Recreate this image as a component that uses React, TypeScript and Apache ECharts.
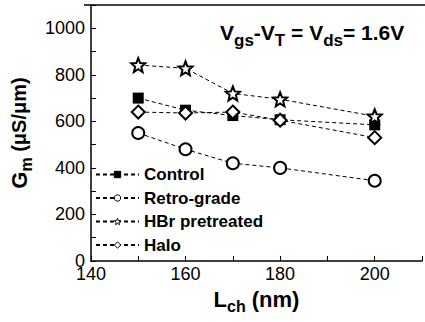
import React, { useEffect, useRef } from "react";
import * as echarts from "echarts";

// Channel length (nm) and transconductance (µS/µm) for each process split
const channelLengths = [150, 160, 170, 180, 200];
const controlGm = [700, 648, 625, 607, 585];
const retroGradeGm = [550, 480, 420, 400, 345];
const hbrGm = [842, 828, 720, 695, 622];
const haloGm = [640, 636, 640, 605, 530];

const seriesNames = ["Control", "Retro-grade", "HBr pretreated", "Halo"];

const xTickLabels = [140, 160, 180, 200];
const yTickLabels = [0, 200, 400, 600, 800, 1000];

const FONT = "'Liberation Sans', Arial, Helvetica, sans-serif";
const STAR =
  "path://M50 0 L62.93 32.2 L97.55 34.55 L70.92 56.8 L79.39 90.45 L50 72 L20.61 90.45 L29.08 56.8 L2.45 34.55 L37.07 32.2 Z";

const pairs = (ys: number[]) => channelLengths.map((x, i) => [x, ys[i]]);

export default function App() {
  const ref = useRef<HTMLDivElement>(null);

  useEffect(() => {
    if (!ref.current) return;
    const chart = echarts.init(ref.current, undefined, { renderer: "svg" });

    const dashed = { color: "#000", width: 1, type: [4, 3] as number[] };
    const mk = (
      name: string,
      data: number[],
      symbol: string,
      size: number | number[],
      filled: boolean
    ) => ({
      name,
      type: "line",
      data: pairs(data),
      symbol,
      symbolSize: size,
      showAllSymbol: true,
      lineStyle: dashed,
      itemStyle: {
        color: filled ? "#000" : "#fff",
        borderColor: "#000",
        borderWidth: filled ? 0 : 2,
      },
      emphasis: { disabled: true },
      z: 3,
    });

    chart.setOption({
      animation: false,
      grid: { left: 84, top: 5, right: -7, bottom: 61, show: false },
      legend: {
        orient: "vertical",
        left: 90,
        top: 161,
        itemWidth: 43,
        itemHeight: 8,
        itemGap: 6.5,
        selectedMode: false,
        data: seriesNames,
        itemStyle: { borderWidth: 1 },
        textStyle: { fontFamily: FONT, fontSize: 17, fontWeight: "bold", color: "#000" },
      },
      xAxis: {
        type: "value",
        min: 140,
        max: 210,
        interval: 10,
        axisLine: { show: true, lineStyle: { color: "#000", width: 1.5 } },
        axisTick: { show: true, inside: true, length: 5, lineStyle: { color: "#000", width: 1 } },
        splitLine: { show: false },
        axisLabel: {
          color: "#000",
          fontFamily: FONT,
          fontSize: 18,
          margin: 4,
          formatter: (v: number) => (xTickLabels.includes(v) ? String(v) : ""),
        },
        name: "{b|L}{s|ch}{b| (nm)}",
        nameLocation: "middle",
        nameGap: 27,
        nameTextStyle: {
          rich: {
            b: { fontFamily: FONT, fontSize: 22, fontWeight: "bold", color: "#000", verticalAlign: "top", lineHeight: 22 },
            s: { fontFamily: FONT, fontSize: 16, fontWeight: "bold", color: "#000", verticalAlign: "top", lineHeight: 16, padding: [10, 0, 0, 0] },
          },
        },
      },
      yAxis: {
        type: "value",
        min: 0,
        max: 1100,
        interval: 100,
        axisLine: { show: true, lineStyle: { color: "#000", width: 1.5 } },
        axisTick: { show: true, inside: true, length: 5, lineStyle: { color: "#000", width: 1 } },
        splitLine: { show: false },
        axisLabel: {
          color: "#000",
          fontFamily: FONT,
          fontSize: 18,
          margin: 6,
          formatter: (v: number) => (yTickLabels.includes(v) ? String(v) : ""),
        },
        name: "{b|G}{s|m}{t| (μS/μm)}",
        nameLocation: "middle",
        nameGap: 50,
        nameTextStyle: {
          rich: {
            b: { fontFamily: FONT, fontSize: 22, fontWeight: "bold", color: "#000", verticalAlign: "top", lineHeight: 22 },
            s: { fontFamily: FONT, fontSize: 16, fontWeight: "bold", color: "#000", verticalAlign: "top", lineHeight: 16, padding: [10, 0, 0, 0] },
            t: { fontFamily: FONT, fontSize: 20, fontWeight: "bold", color: "#000", verticalAlign: "top", lineHeight: 22, padding: [1, 0, 0, 0] },
          },
        },
      },
      graphic: [
        {
          type: "line",
          shape: { x1: 84, y1: 5, x2: 432, y2: 5 },
          style: { stroke: "#000", lineWidth: 1.5 },
          silent: true,
        },
        {
          type: "text",
          left: 220,
          top: 22,
          style: {
            text: "{b|V}{s|gs}{b|-V}{s|T}{b| = V}{s|ds}{b|= 1.6V}",
            rich: {
              b: { fontFamily: FONT, fontSize: 21, fontWeight: "bold", fill: "#000", verticalAlign: "top", lineHeight: 21 },
              s: { fontFamily: FONT, fontSize: 17, fontWeight: "bold", fill: "#000", verticalAlign: "top", lineHeight: 17, padding: [10, 0, 0, 0] },
            },
          },
        },
      ],
      series: [
        mk(seriesNames[0], controlGm, "rect", 11, true),
        mk(seriesNames[1], retroGradeGm, "circle", 12, false),
        mk(seriesNames[2], hbrGm, STAR, 14, false),
        mk(seriesNames[3], haloGm, "diamond", 13, false),
      ],
    });

    return () => chart.dispose();
  }, []);

  return (
    <div
      ref={ref}
      style={{ position: "absolute", left: 0, top: 0, width: 425, height: 322, overflow: "hidden", background: "#fff" }}
    />
  );
}
